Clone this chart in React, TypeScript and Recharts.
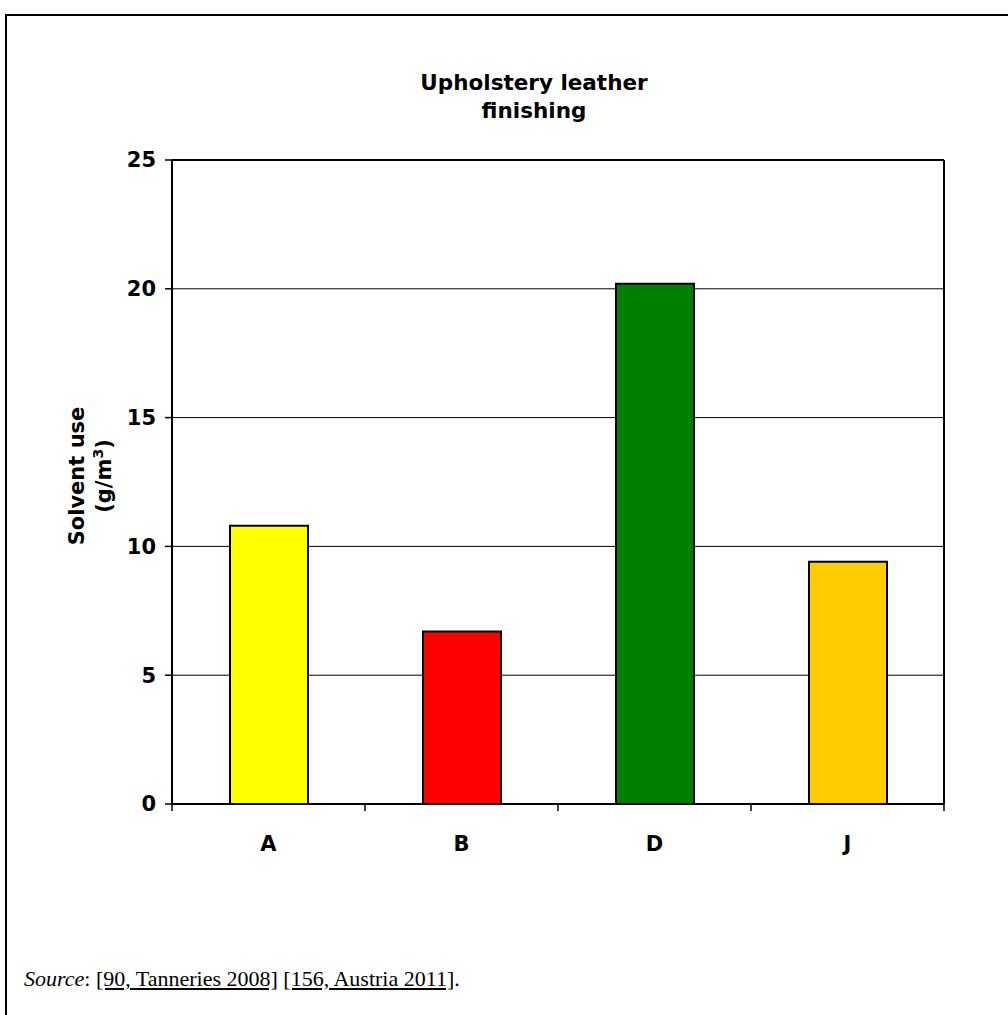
import React from 'react';
import { BarChart, Bar, XAxis, YAxis, CartesianGrid, Cell, ReferenceLine } from 'recharts';

const categories = ['A', 'B', 'D', 'J'];
const values = [10.8, 6.7, 20.2, 9.4];
const colors = ['#FFFF00', '#FF0000', '#008000', '#FFCC00'];
const yTicks = [0, 5, 10, 15, 20, 25];
const titleLines = ['Upholstery leather', 'finishing'];
const yLabelLine1 = 'Solvent use';

const data = categories.map((c, i) => ({ name: c, pos: i + 0.5, value: values[i] }));
const xTicks = Array.from({ length: categories.length * 2 + 1 }, (_, k) => k / 2);

const FONT = '"DejaVu Sans", Arial, sans-serif';
const SERIF = '"Liberation Serif", "Times New Roman", serif';
const FS = 21;

const XTick = (props: any) => {
  const { x, y, payload } = props;
  const v = payload.value;
  const axisY = y - 8;
  if (Number.isInteger(v)) {
    return <line x1={x} x2={x} y1={axisY} y2={axisY + 7} stroke="#000" strokeWidth={1.5} />;
  }
  const label = categories[Math.floor(v)];
  return (
    <text x={x} y={axisY + 47} textAnchor="middle" fontFamily={FONT} fontWeight="bold" fontSize={FS} fill="#000">
      {label}
    </text>
  );
};

const YLabel = (props: any) => {
  const vb = props.viewBox || { x: 0, y: 160, width: 60, height: 644 };
  const cy = vb.y + vb.height / 2 - 6;
  const x1 = 84;
  const x2 = 111;
  return (
    <g>
      <text x={x1} y={cy} transform={`rotate(-90, ${x1}, ${cy})`} textAnchor="middle" fontFamily={FONT} fontWeight="bold" fontSize={FS} fill="#000">
        {yLabelLine1}
      </text>
      <text x={x2} y={cy} transform={`rotate(-90, ${x2}, ${cy})`} textAnchor="middle" fontFamily={FONT} fontWeight="bold" fontSize={FS} fill="#000">
        (g/m<tspan dy={-8} fontSize={14}>3</tspan><tspan dy={8}>)</tspan>
      </text>
    </g>
  );
};

export default function App() {
  return (
    <div style={{ position: 'absolute', left: 0, top: 0, width: 1008, height: 1015, background: '#fff' }}>
      <BarChart
        width={1008}
        height={1015}
        data={data}
        margin={{ top: 160, right: 64, bottom: 171, left: 112 }}
      >
        <CartesianGrid horizontal vertical={false} stroke="#000" strokeWidth={1} />
        <XAxis
          type="number"
          dataKey="pos"
          domain={[0, categories.length]}
          ticks={xTicks}
          interval={0}
          height={40}
          tickLine={false}
          tickSize={6}
          tickMargin={2}
          axisLine={{ stroke: '#000', strokeWidth: 2 }}
          tick={<XTick />}
          allowDataOverflow
        />
        <YAxis
          type="number"
          domain={[0, 25]}
          ticks={yTicks}
          interval={0}
          width={60}
          tickSize={7}
          tickMargin={9}
          tickLine={{ stroke: '#000', strokeWidth: 1.5 }}
          axisLine={{ stroke: '#000', strokeWidth: 2 }}
          tick={{ fill: '#000', fontSize: FS, fontWeight: 'bold', fontFamily: FONT }}
          label={<YLabel />}
        />
        <ReferenceLine y={25} stroke="#000" strokeWidth={2} />
        <ReferenceLine x={categories.length} stroke="#000" strokeWidth={2} />
        <Bar dataKey="value" barSize={78} stroke="#000" strokeWidth={2} isAnimationActive={false}>
          {data.map((d, i) => (
            <Cell key={d.name} fill={colors[i]} />
          ))}
        </Bar>
      </BarChart>
      <svg width={1008} height={1015} style={{ position: 'absolute', left: 0, top: 0, pointerEvents: 'none' }}>
        <line x1={6} y1={15} x2={1008} y2={15} stroke="#000" strokeWidth={2} />
        <line x1={6} y1={14} x2={6} y2={1015} stroke="#000" strokeWidth={2} />
        <text x={534} y={90} textAnchor="middle" fontFamily={FONT} fontWeight="bold" fontSize={21.5} fill="#000">
          {titleLines[0]}
        </text>
        <text x={534} y={118} textAnchor="middle" fontFamily={FONT} fontWeight="bold" fontSize={21.5} fill="#000">
          {titleLines[1]}
        </text>
      </svg>
      <div
        style={{
          position: 'absolute',
          left: 24,
          top: 968,
          fontFamily: SERIF,
          fontSize: 22,
          lineHeight: '22px',
          color: '#000',
          whiteSpace: 'nowrap',
        }}
      >
        <i>Source</i>: <u>[90, Tanneries 2008]</u> <u>[156, Austria 2011]</u>.
      </div>
    </div>
  );
}
